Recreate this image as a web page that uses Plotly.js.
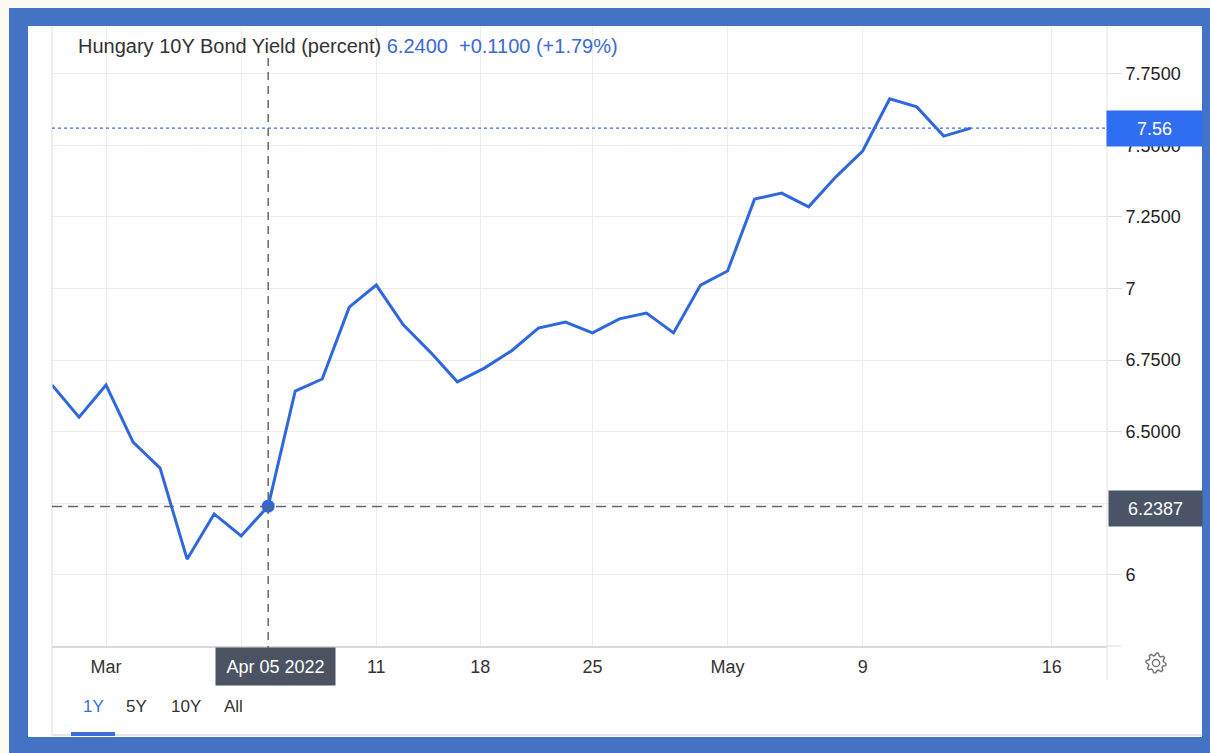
<!DOCTYPE html>
<html><head><meta charset="utf-8">
<script src="https://cdn.plot.ly/plotly-3.0.1.min.js"></script>
<style>html,body{margin:0;padding:0;background:#4472c4;overflow:hidden}#chart{width:1210px;height:753px}</style>
</head><body><div id="chart"></div>
<script>
// ---- data ----
const dates = ["2022-03-24","2022-03-25","2022-03-28","2022-03-29","2022-03-30","2022-03-31","2022-04-01",
  "2022-04-04","2022-04-05","2022-04-06","2022-04-07","2022-04-08","2022-04-11","2022-04-12","2022-04-13",
  "2022-04-14","2022-04-19","2022-04-20","2022-04-21","2022-04-22","2022-04-25","2022-04-26","2022-04-27",
  "2022-04-28","2022-04-29","2022-05-02","2022-05-03","2022-05-04","2022-05-05","2022-05-06","2022-05-09",
  "2022-05-10","2022-05-11","2022-05-12","2022-05-13"];
const yields = [6.663,6.551,6.663,6.464,6.373,6.055,6.213,
  6.136,6.240,6.642,6.684,6.935,7.012,6.873,6.778,
  6.674,6.722,6.782,6.862,6.883,6.845,6.894,6.914,
  6.845,7.012,7.061,7.312,7.333,7.285,7.389,7.480,
  7.662,7.634,7.532,7.560];
// weekends inside the data range (no trading)
const weekendDays = ["2022-03-26","2022-03-27","2022-04-02","2022-04-03","2022-04-09","2022-04-10",
  "2022-04-23","2022-04-24","2022-04-30","2022-05-01","2022-05-07","2022-05-08"];
// Easter closure (Good Friday .. Easter Monday), squeezed so the Apr 18 week tick stays visible
const easterGaps = [["2022-04-14 20:24","2022-04-18 00:00"],["2022-04-18 03:36","2022-04-19 00:00"]];
const xTickDates = ["2022-03-28","2022-04-04","2022-04-11","2022-04-18","2022-04-25","2022-05-02","2022-05-09","2022-05-16"];
const xTickLabels = ["Mar","","11","18","25","May","9","16"];
const yTickVals = [6,6.25,6.5,6.75,7,7.25,7.5,7.75];
const yTickLabels = ["6","","6.5000","6.7500","7","7.2500","7.5000","7.7500"];
const seriesName = "Hungary 10Y Bond Yield (percent)";
const lastValue = 7.56;
const hoverDate = "2022-04-05";
const hoverValueText = "6.2400";
const changeText = "+0.1100 (+1.79%)";
const cursorY = 6.2387;
const hoverLabel = "Apr 05 2022";
const rangeButtons = ["1Y","5Y","10Y","All"];

// ---- layout helpers (pixel -> paper) ----
const W=1210,H=753,L=52,R=103,T=27,B=107;
const pw=W-L-R, ph=H-T-B;
const px=x=>(x-L)/pw, py=y=>(H-B-y)/ph;
const FONT="Liberation Sans, Arial, sans-serif";
const BLUE="#2f68dd";

const hi = dates.indexOf(hoverDate);

const traces=[
  {x:dates,y:yields,type:"scatter",mode:"lines",line:{color:BLUE,width:3},hoverinfo:"skip",showlegend:false},
  {x:[dates[hi]],y:[yields[hi]],type:"scatter",mode:"markers",marker:{color:BLUE,size:13},hoverinfo:"skip",showlegend:false}
];

function rectPx(x0,y0,x1,y1,fill,layer,line){
  return {type:"rect",xref:"paper",yref:"paper",x0:px(x0),x1:px(x1),y0:py(y0),y1:py(y1),
    fillcolor:fill,line:line||{width:0},layer:layer||"below"};
}
function linePx(x0,y0,x1,y1,color,w){
  return {type:"line",xref:"paper",yref:"paper",x0:px(x0),x1:px(x1),y0:py(y0),y1:py(y1),line:{color:color,width:w||1},layer:"above"};
}
function gearPath(cx,cy,rO,rI,teeth){
  let pts=[];
  const n=teeth*4;
  for(let i=0;i<n;i++){
    const a=(i/n)*2*Math.PI - Math.PI/2 + Math.PI/n/2;
    const r=(i%4<2)?rO:rI;
    pts.push([cx+r*Math.cos(a),cy+r*Math.sin(a)]);
  }
  return "M"+pts.map(p=>px(p[0]).toFixed(5)+","+py(p[1]).toFixed(5)).join(" L")+" Z";
}
function circlePx(cx,cy,r,color,w){
  return {type:"circle",xref:"paper",yref:"paper",x0:px(cx-r),x1:px(cx+r),y0:py(cy+r),y1:py(cy-r),
    line:{color:color,width:w},fillcolor:"rgba(0,0,0,0)",layer:"above"};
}

const shapes=[
  rectPx(0,0,W,8,"#fbfbf3"),
  rectPx(0,0,9,H,"#fbfbf3"),
  rectPx(28,26,1202,737,"#ffffff"),
  linePx(52,26,52,735,"#dedede",1),
  linePx(52,735,1202,735,"#dedede",1.5),
  linePx(1107,26,1107,680,"#e2e2e2",1),
  linePx(1107,646,1121,646,"#d9d9d9",1),
  {type:"line",xref:"x",yref:"paper",x0:dates[hi],x1:dates[hi],y0:py(58),y1:py(688),line:{color:"#666",width:1.5,dash:"8px,6px"},layer:"above"},
  {type:"line",xref:"paper",yref:"y",x0:0,x1:1,y0:cursorY,y1:cursorY,line:{color:"#666",width:1.5,dash:"10px,6px"},layer:"above"},
  {type:"line",xref:"paper",yref:"y",x0:0,x1:1,y0:lastValue,y1:lastValue,line:{color:"#3b6fe0",width:1.2,dash:"dot"},layer:"above"},
  rectPx(71,732,115,736,"#3b6fd8","above"),
  {type:"path",xref:"paper",yref:"paper",path:gearPath(1156,663,10,7.6,8),line:{color:"#777",width:1.5},fillcolor:"rgba(0,0,0,0)",layer:"above"},
  circlePx(1156,663,3.6,"#777",1.5)
];

const annotations=[
  {xref:"paper",yref:"paper",x:px(76),y:py(46),xanchor:"left",yanchor:"middle",showarrow:false,
   text:seriesName+' <span style="color:#3a6ad4">'+hoverValueText+'\u00a0\u00a0'+changeText+'</span>',
   font:{family:FONT,size:20,color:"#333"}},
  {xref:"paper",yref:"paper",x:px(1154.5),y:py(128.5),xanchor:"center",yanchor:"middle",showarrow:false,
   text:String(lastValue),width:95,height:35,bgcolor:"#2f6ef0",borderpad:0,font:{family:FONT,size:18,color:"#fff"}},
  {xref:"paper",yref:"paper",x:px(1155.5),y:py(508.5),xanchor:"center",yanchor:"middle",showarrow:false,
   text:cursorY.toFixed(4),width:93,height:35,bgcolor:"#4a5466",borderpad:0,font:{family:FONT,size:18,color:"#fff"}},
  {xref:"paper",yref:"paper",x:px(275.5),y:py(666.5),xanchor:"center",yanchor:"middle",showarrow:false,
   text:hoverLabel,width:119,height:37,bgcolor:"#4b5362",borderpad:0,font:{family:FONT,size:18,color:"#fff"}}
];
const btnX=[93.5,136,186,233];
rangeButtons.forEach((b,i)=>annotations.push({xref:"paper",yref:"paper",x:px(btnX[i]),y:py(707),xanchor:"center",yanchor:"middle",
  showarrow:false,text:b,font:{family:FONT,size:17,color:i===0?"#3b6fd8":"#333"}}));

const breaks=[{values:weekendDays}].concat(easterGaps.map(g=>({bounds:g})));

const layout={
  width:W,height:H,margin:{l:L,r:R,t:T,b:B,pad:0},
  paper_bgcolor:"#4472c4",plot_bgcolor:"rgba(0,0,0,0)",
  showlegend:false,hovermode:false,
  font:{family:FONT,size:18,color:"#333"},
  xaxis:{type:"date",range:["2022-03-24","2022-05-18 01:00"],rangebreaks:breaks,
    tickmode:"array",tickvals:xTickDates,ticktext:xTickLabels,showgrid:true,gridcolor:"#ececec",gridwidth:1,
    showline:true,linecolor:"#d9d9d9",linewidth:1.5,ticks:"",ticklabelstandoff:4,zeroline:false,fixedrange:true,
    tickfont:{family:FONT,size:18,color:"#333"}},
  yaxis:{side:"right",range:[5.7518,7.913],tickmode:"array",tickvals:yTickVals,ticktext:yTickLabels,
    showgrid:true,gridcolor:"#ececec",gridwidth:1,ticks:"outside",ticklen:14,tickcolor:"#e0e0e0",
    zeroline:false,showline:false,fixedrange:true,tickfont:{family:FONT,size:18,color:"#222"}},
  shapes:shapes,annotations:annotations
};
Plotly.newPlot("chart",traces,layout,{displayModeBar:false,staticPlot:true});
</script></body></html>
